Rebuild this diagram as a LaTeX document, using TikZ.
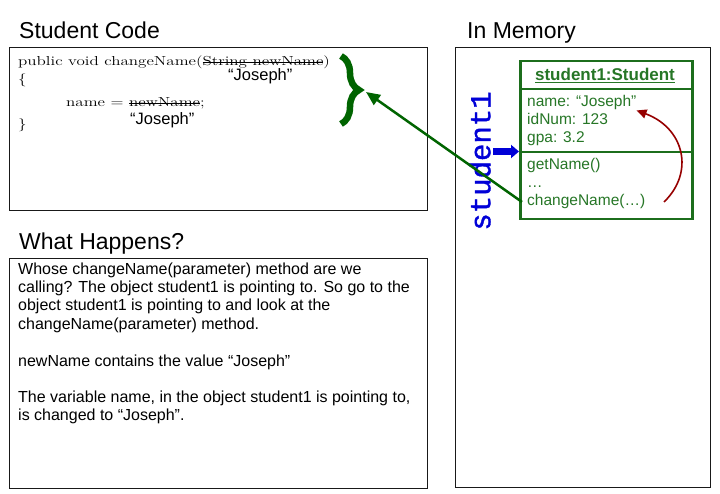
\documentclass[tikz,border=0pt]{standalone}
\usepackage{fontspec}
\newfontfamily\sansf{Liberation Sans}
\newfontfamily\monof[FakeBold=1.2]{Liberation Mono}
\usetikzlibrary{arrows.meta,decorations.pathreplacing}

\definecolor{objgreen}{RGB}{28,110,28}
\definecolor{txtgreen}{RGB}{38,118,38}
\definecolor{bracegreen}{RGB}{0,100,0}
\definecolor{refblue}{RGB}{0,0,215}
\definecolor{callred}{RGB}{150,0,0}
\definecolor{framecol}{RGB}{25,25,25}

% struck-through code words
\newcommand\codestrike[1]{\setbox0=\hbox{#1}\rlap{\rule[0.27em]{\wd0}{0.6pt}}\box0}
% source code is set wide
\newcommand\codewide[1]{\scalebox{1.31}[1]{#1}}

\begin{document}
\begin{tikzpicture}[x=1pt,y=-1pt,
  panel/.style={draw=framecol, line width=1pt, inner sep=0pt, anchor=north west},
  heading/.style={font=\sansf\fontsize{23}{27}\selectfont, anchor=base west, inner sep=0pt},
  codetxt/.style={font=\fontsize{13}{15}\selectfont, anchor=base west, inner sep=0pt},
  valtxt/.style={font=\sansf\fontsize{16.5}{18}\selectfont, anchor=base west, inner sep=0pt},
  bodytxt/.style={font=\sansf\fontsize{16}{18}\selectfont, anchor=base west, inner sep=0pt},
  objtxt/.style={font=\sansf\fontsize{15.5}{18}\selectfont, text=txtgreen, anchor=base west, inner sep=0pt},
  callarrow/.style={draw=bracegreen, line width=2.5pt, -{Triangle[length=14pt,width=12pt]}},
  setarrow/.style={draw=callred, line width=1.6pt, -{Triangle[length=10pt,width=9pt]}},
  refarrow/.style={draw=refblue, line width=7pt, -{Triangle[length=8pt,width=13pt]}}
]
\useasboundingbox (0,0) rectangle (720,494);

% section headings
\node[heading] (hcode) at (19,39) {Student Code};
\node[heading] (hmem) at (467,39) {In Memory};
\node[heading] (hwhat) at (19,250) {What Happens?};

% panels
\node[panel, minimum width=418, minimum height=163] (codebox) at (9,47) {};
\node[panel, minimum width=418, minimum height=230] (whatbox) at (9,258) {};
\node[panel, minimum width=255, minimum height=440] (membox) at (455,47) {};

% method source
\node[codetxt] (c1) at (18,66) {\codewide{public void changeName(\codestrike{String newName})}};
\node[valtxt] (v1) at (228,81) {“Joseph”};
\node[codetxt] (c2) at (18,84) {\codewide{\{}};
\node[codetxt] (c3) at (66,107) {\codewide{name = \codestrike{newName};}};
\node[valtxt] (v2) at (130,125) {“Joseph”};
\node[codetxt] (c4) at (18,129) {\codewide{\}}};

% brace around the method
\draw[bracegreen, line width=6.5pt, decorate, decoration={brace, amplitude=18pt}] (341,56) -- (341,124);
\coordinate (bracetip) at (366,92);

% explanation
\node[bodytxt] (w1) at (18,275) {Whose changeName(parameter) method are we};
\node[bodytxt] (w2) at (18,293) {calling? The object student1 is pointing to. So go to the};
\node[bodytxt] (w3) at (18,311) {object student1 is pointing to and look at the};
\node[bodytxt] (w4) at (18,329.5) {changeName(parameter) method.};
\node[bodytxt] (w5) at (18,366) {newName contains the value “Joseph”};
\node[bodytxt] (w6) at (18,402) {The variable name, in the object student1 is pointing to,};
\node[bodytxt] (w7) at (18,420) {is changed to “Joseph”.};

% object in memory
\node[draw=objgreen, line width=2.5pt, minimum width=172, minimum height=158, anchor=north west, inner sep=0pt] (obj) at (519,60) {};
\coordinate (div1) at (0,89);
\coordinate (div2) at (0,152);
\draw[objgreen, line width=2pt] (obj.west |- div1) -- (obj.east |- div1);
\draw[objgreen, line width=2pt] (obj.west |- div2) -- (obj.east |- div2);
\node[font=\sansf\bfseries\fontsize{17}{20}\selectfont, text=txtgreen, anchor=base, inner sep=0pt] (otitle) at (605,81) {\underline{student1:Student}};
\node[objtxt] (aname) at (527,107) {name: “Joseph”};
\node[objtxt] (aid) at (527,125) {idNum: 123};
\node[objtxt] (agpa) at (527,143) {gpa: 3.2};
\node[objtxt] (mget) at (527,170) {getName()};
\node[objtxt] (mdots) at (527,188) {…};
\node[objtxt] (chg) at (527,206) {changeName(…)};

% reference variable
\node[font=\monof\fontsize{29}{30}\selectfont, text=refblue, rotate=90, inner sep=0pt] (refname) at (480,161) {student1};
\coordinate (reftail) at (493,151.5);
\draw[refarrow] (reftail) -- (obj.west |- reftail);

% call and assignment arrows
\draw[callarrow] ([xshift=-5pt]chg.west) -- (bracetip);
\coordinate (rstart) at (664,202);
\draw[setarrow] (rstart) .. controls (695,172) and (684,128) .. (aname.south east);
\end{tikzpicture}
\end{document}
